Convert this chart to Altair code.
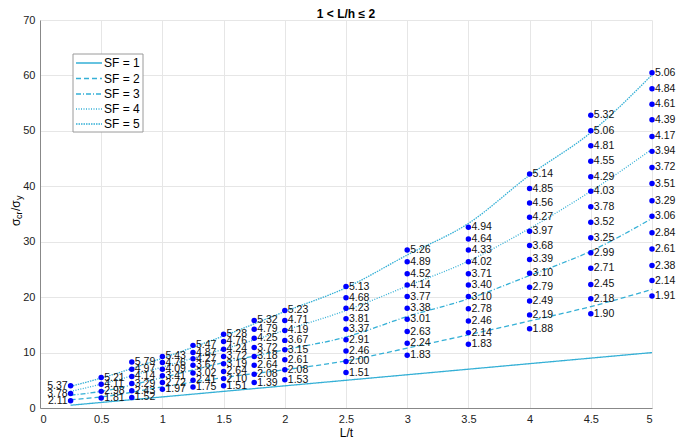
import altair as alt
import pandas as pd

# ---------------- data ----------------
dot_x = [0.25, 0.5, 0.75, 1.0, 1.25, 1.5, 1.75, 2.0, 2.5, 3.0, 3.5, 4.0, 4.5, 5.0]

dot_labels = [
    ["5.37", "3.78", "2.11"],
    ["5.21", "4.11", "2.98", "1.81"],
    ["5.79", "4.97", "4.14", "3.29", "2.43", "1.52"],
    ["5.43", "4.76", "4.09", "3.41", "2.72", "1.97"],
    ["5.47", "4.87", "4.27", "3.67", "3.02", "2.41", "1.75"],
    ["5.28", "4.76", "4.24", "3.72", "3.19", "2.64", "2.10", "1.51"],
    ["5.32", "4.79", "4.25", "3.72", "3.18", "2.64", "2.08", "1.39"],
    ["5.23", "4.71", "4.19", "3.67", "3.15", "2.61", "2.08", "1.53"],
    ["5.13", "4.68", "4.23", "3.81", "3.37", "2.91", "2.46", "2.00", "1.51"],
    ["5.26", "4.89", "4.52", "4.14", "3.77", "3.38", "3.01", "2.63", "2.24", "1.83"],
    ["4.94", "4.64", "4.33", "4.02", "3.71", "3.40", "3.10", "2.78", "2.46", "2.14", "1.83"],
    ["5.14", "4.85", "4.56", "4.27", "3.97", "3.68", "3.39", "3.10", "2.79", "2.49", "2.19", "1.88"],
    ["5.32", "5.06", "4.81", "4.55", "4.29", "4.03", "3.78", "3.52", "3.25", "2.99", "2.71", "2.45", "2.18", "1.90"],
    ["5.06", "4.84", "4.61", "4.39", "4.17", "3.94", "3.72", "3.51", "3.29", "3.06", "2.84", "2.61", "2.38", "2.14", "1.91"],
]

dot_y = [
    [4.0, 2.6, 1.3],
    [5.5, 4.3, 3.0, 1.8],
    [8.3, 7.0, 5.7, 4.4, 3.1, 1.9],
    [9.3, 8.2, 7.0, 5.8, 4.6, 3.4],
    [11.3, 10.0, 8.9, 7.7, 6.3, 5.0, 3.8],
    [13.3, 12.0, 10.6, 9.3, 8.0, 6.6, 5.3, 4.0],
    [15.8, 14.2, 12.6, 10.9, 9.3, 7.7, 6.1, 4.6],
    [17.6, 15.8, 14.0, 12.2, 10.5, 8.7, 6.9, 5.1],
    [21.9, 19.9, 18.0, 16.1, 14.2, 12.3, 10.3, 8.4, 6.4],
    [28.5, 26.4, 24.2, 22.2, 20.1, 18.0, 16.0, 13.8, 11.7, 9.5],
    [32.6, 30.5, 28.5, 26.4, 24.2, 22.2, 20.1, 17.9, 15.7, 13.6, 11.5],
    [42.2, 39.6, 37.0, 34.4, 31.9, 29.3, 26.8, 24.3, 21.8, 19.3, 16.8, 14.3],
    [52.8, 50.0, 47.3, 44.5, 41.7, 39.1, 36.3, 33.5, 30.7, 28.0, 25.2, 22.3, 19.7, 17.0],
    [60.5, 57.6, 54.8, 52.0, 49.0, 46.3, 43.4, 40.5, 37.4, 34.6, 31.6, 28.7, 25.7, 23.0, 20.2],
]

line_x = [0.25, 0.5, 1.0, 1.5, 2.0, 2.5, 3.0, 3.5, 4.0, 4.5, 5.0]
sf1 = [0.5, 1.0, 2.0, 3.0, 4.0, 5.0, 6.0, 7.0, 8.0, 9.0, 10.0]
sf2 = [1.5, 2.0, 3.8, 5.5, 6.9, 8.5, 10.8, 13.2, 15.7, 18.3, 21.4]
sf3 = [2.3, 3.0, 5.5, 8.2, 10.5, 12.8, 16.5, 19.7, 23.9, 28.3, 34.2]
sf4 = [3.0, 4.3, 7.4, 10.6, 14.0, 17.6, 22.0, 26.5, 32.4, 39.1, 46.7]
sf5 = [3.9, 5.4, 9.0, 13.0, 17.4, 21.7, 27.6, 33.3, 42.0, 49.7, 60.1]

sf_names = ["SF = 1", "SF = 2", "SF = 3", "SF = 4", "SF = 5"]
sf_dash = [[1, 0], [5, 3], [5, 2, 1, 2], [1, 1.5], [1.5, 1]]

title_text = "1 < L/h ≤ 2"
x_title = "L/t"

# ---------------- tables ----------------
rows = []
for xv, labs, ys in zip(dot_x, dot_labels, dot_y):
    for lab, yv in zip(labs, ys):
        rows.append({"x": xv, "y": yv, "label": lab})
dots = pd.DataFrame(rows)

lrows = []
for name, series in zip(sf_names, [sf1, sf2, sf3, sf4, sf5]):
    for xv, yv in zip(line_x, series):
        lrows.append({"x": xv, "y": yv, "SF": name})
lines = pd.DataFrame(lrows)

one = pd.DataFrame({"k": [0]})

LINE_COLOR = "#35b0d6"
FONT = "Liberation Sans"
W, H = 612, 388

xscale = alt.Scale(domain=[0, 5], nice=False)
yscale = alt.Scale(domain=[0, 70], nice=False)

xaxis = alt.Axis(values=[0, 0.5, 1, 1.5, 2, 2.5, 3, 3.5, 4, 4.5, 5], format="~g",
                 title=x_title, grid=True, ticks=False, labelPadding=5, titlePadding=3)
yaxis = alt.Axis(values=[0, 10, 20, 30, 40, 50, 60, 70], title=None,
                 grid=True, ticks=False, labelPadding=5)

line_layer = alt.Chart(lines).mark_line(color=LINE_COLOR, strokeWidth=1.3, interpolate="monotone").encode(
    x=alt.X("x:Q", scale=xscale, axis=xaxis),
    y=alt.Y("y:Q", scale=yscale, axis=yaxis),
    strokeDash=alt.StrokeDash("SF:N", scale=alt.Scale(domain=sf_names, range=sf_dash), legend=None),
)

dot_layer = alt.Chart(dots).mark_circle(color="#0000ff", size=30, opacity=1).encode(
    x=alt.X("x:Q", scale=xscale),
    y=alt.Y("y:Q", scale=yscale),
)

text_right = alt.Chart(dots).transform_filter(alt.datum.x > 0.3).mark_text(
    align="left", baseline="middle", dx=3, fontSize=10.5, font=FONT, color="#111"
).encode(x=alt.X("x:Q", scale=xscale), y=alt.Y("y:Q", scale=yscale), text="label:N")

text_left = alt.Chart(dots).transform_filter(alt.datum.x < 0.3).mark_text(
    align="right", baseline="middle", dx=-3, fontSize=10.5, font=FONT, color="#111"
).encode(x=alt.X("x:Q", scale=xscale), y=alt.Y("y:Q", scale=yscale), text="label:N")

# ---- title drawn as text above the plot ----
title_layer = alt.Chart(one).mark_text(
    fontSize=12, fontWeight="bold", font=FONT, align="center", baseline="alphabetic", color="#000"
).encode(x=alt.value(W / 2), y=alt.value(-2), text=alt.value(title_text))

# ---- y-axis title with subscripts: sigma_cr / sigma_y ----
YT0 = 206
YX = -24
ytitle = [
    ("σ", 12, YX, YT0),
    ("cr", 9, YX + 3, YT0 - 7),
    ("/σ", 12, YX, YT0 - 15),
    ("y", 9, YX + 3, YT0 - 26),
]
ytitle_layers = [
    alt.Chart(one).mark_text(angle=270, align="left", baseline="middle", fontSize=fs,
                             font=FONT, color="#000").encode(
        x=alt.value(xv), y=alt.value(yv), text=alt.value(t))
    for t, fs, xv, yv in ytitle
]

# ---- manual legend ----
LX0, LX1, LY0, LY1 = 33, 103, 34, 112
row_y = [43, 58.5, 74, 89, 104]
legend_layers = [
    alt.Chart(one).mark_rect(fill="white", stroke="#9a9a9a", strokeWidth=1).encode(
        x=alt.value(LX0), x2=alt.value(LX1), y=alt.value(LY0), y2=alt.value(LY1))
]
for name, dash, ry in zip(sf_names, sf_dash, row_y):
    legend_layers.append(
        alt.Chart(one).mark_rule(color=LINE_COLOR, strokeWidth=1.5, strokeDash=dash).encode(
            x=alt.value(36), x2=alt.value(62), y=alt.value(ry))
    )
    legend_layers.append(
        alt.Chart(one).mark_text(align="left", baseline="middle", fontSize=12, font=FONT,
                                 color="#000").encode(
            x=alt.value(64), y=alt.value(ry), text=alt.value(name))
    )

chart = alt.layer(
    line_layer, dot_layer, text_right, text_left, title_layer, *ytitle_layers, *legend_layers
).properties(
    width=W, height=H,
    autosize=alt.AutoSizeParams(type="none"),
    padding={"left": 32, "top": 12, "right": 25, "bottom": 30},
).configure_axis(
    labelFont=FONT, titleFont=FONT, labelFontSize=11, titleFontSize=12,
    labelColor="#222", titleColor="#000", titleFontWeight="normal",
    gridColor="#e6e6e6", domainColor="#888", domainWidth=1,
).configure_view(stroke=None)

chart.save("out.html", embed_options={"renderer": "svg", "actions": False})
